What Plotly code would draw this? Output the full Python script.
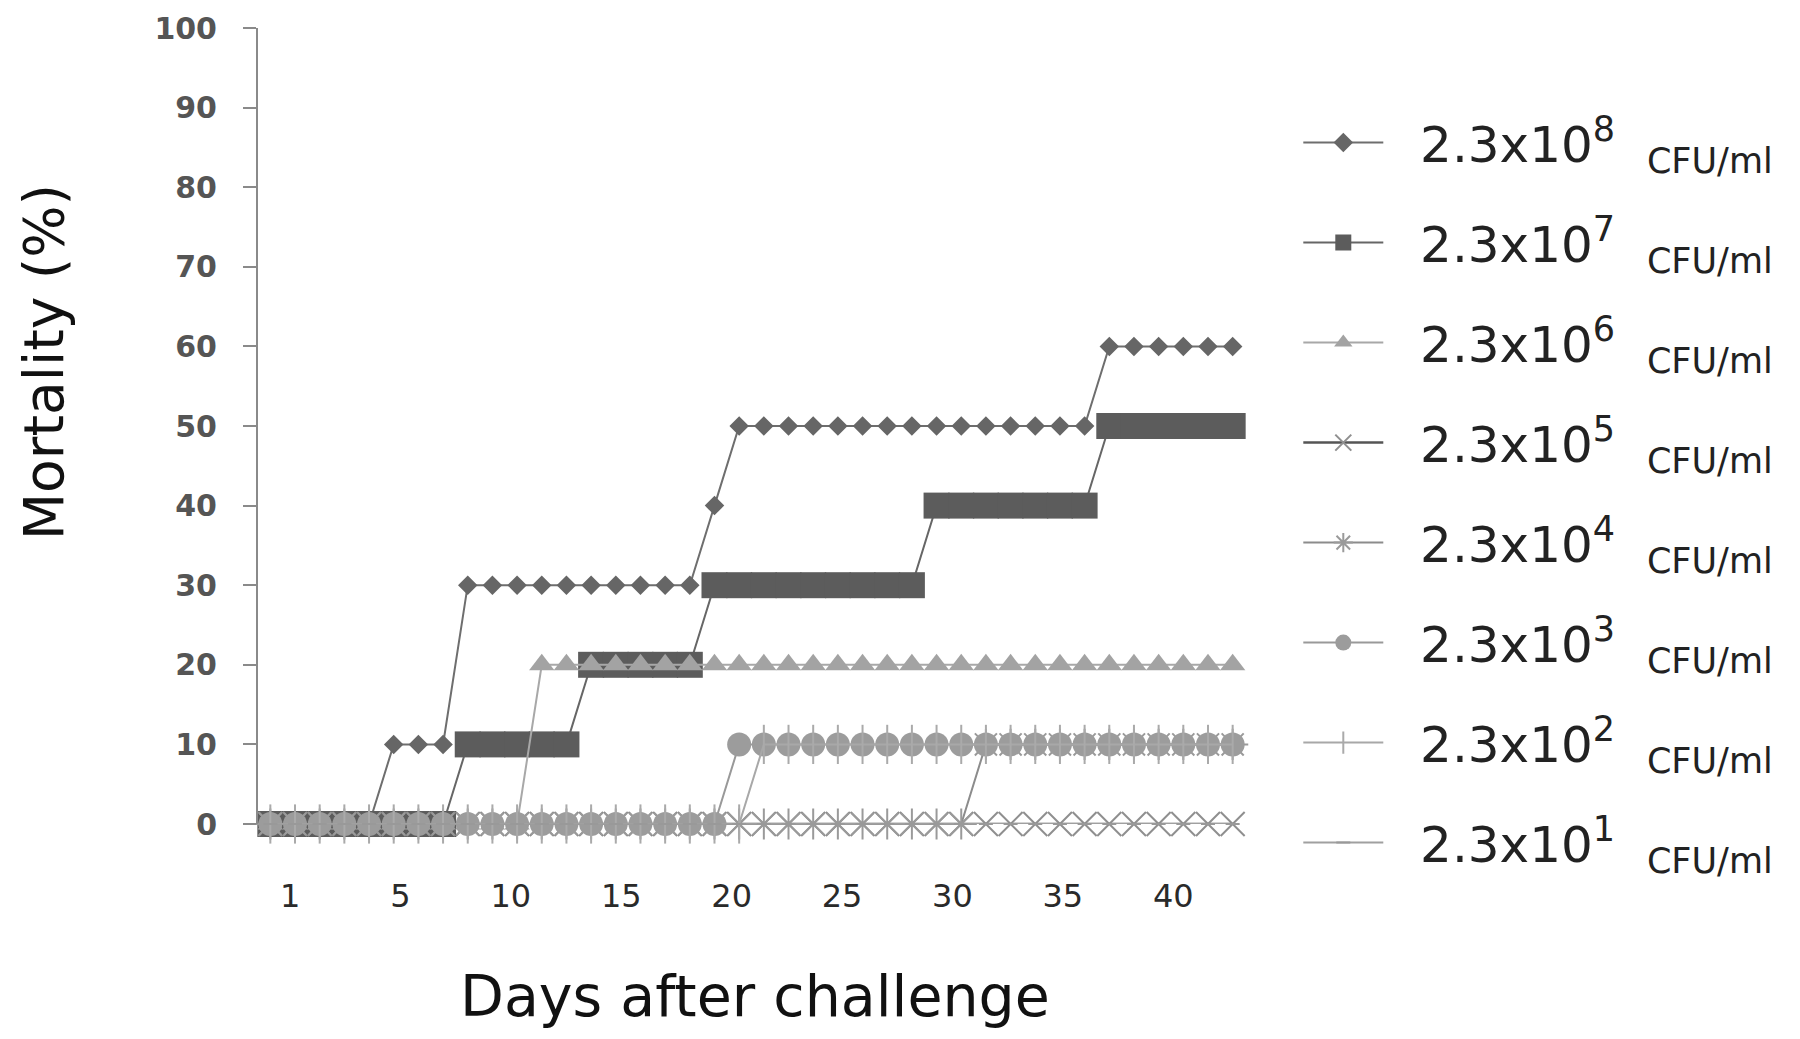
import plotly.graph_objects as go

# ---- data ----
days = list(range(1, 41))

mort_8 = [0, 0, 0, 0, 0, 10, 10, 10, 30, 30, 30, 30, 30, 30, 30, 30, 30, 30, 40,
          50, 50, 50, 50, 50, 50, 50, 50, 50, 50, 50, 50, 50, 50, 50,
          60, 60, 60, 60, 60, 60]
mort_7 = [0, 0, 0, 0, 0, 0, 0, 0, 10, 10, 10, 10, 10, 20, 20, 20, 20, 20,
          30, 30, 30, 30, 30, 30, 30, 30, 30, 40, 40, 40, 40, 40, 40, 40,
          50, 50, 50, 50, 50, 50]
mort_6 = [0, 0, 0, 0, 0, 0, 0, 0, 0, 0, 0, 20, 20, 20, 20, 20, 20, 20, 20, 20,
          20, 20, 20, 20, 20, 20, 20, 20, 20, 20, 20, 20, 20, 20, 20, 20, 20, 20, 20, 20]
mort_5 = [0, 0, 0, 0, 0, 0, 0, 0, 0, 0, 0, 0, 0, 0, 0, 0, 0, 0, 0, 0,
          0, 0, 0, 0, 0, 0, 0, 0, 0, 0, 0, 0, 0, 0, 0, 0, 0, 0, 0, 0]
mort_4 = [0, 0, 0, 0, 0, 0, 0, 0, 0, 0, 0, 0, 0, 0, 0, 0, 0, 0, 0, 0,
          0, 0, 0, 0, 0, 0, 0, 0, 0, 10, 10, 10, 10, 10, 10, 10, 10, 10, 10, 10]
mort_3 = [0, 0, 0, 0, 0, 0, 0, 0, 0, 0, 0, 0, 0, 0, 0, 0, 0, 0, 0, 10,
          10, 10, 10, 10, 10, 10, 10, 10, 10, 10, 10, 10, 10, 10, 10, 10, 10, 10, 10, 10]
mort_2 = [0, 0, 0, 0, 0, 0, 0, 0, 0, 0, 0, 0, 0, 0, 0, 0, 0, 0, 0, 0,
          10, 10, 10, 10, 10, 10, 10, 10, 10, 10, 10, 10, 10, 10, 10, 10, 10, 10, 10, 10]
mort_1 = [0, 0, 0, 0, 0, 0, 0, 0, 0, 0, 0, 0, 0, 0, 0, 0, 0, 0, 0, 0,
          0, 0, 0, 0, 0, 0, 0, 0, 0, 0, 0, 0, 0, 0, 0, 0, 0, 0, 0, 0]

exponents = ["8", "7", "6", "5", "4", "3", "2", "1"]
series = [mort_8, mort_7, mort_6, mort_5, mort_4, mort_3, mort_2, mort_1]

x_tick_labels = ["1", "5", "10", "15", "20", "25", "30", "35", "40"]
y_tick_vals = [0, 10, 20, 30, 40, 50, 60, 70, 80, 90, 100]

# ---- styles ----
styles = [
    dict(symbol="diamond", size=15, mcolor="#666666", lcolor="#6e6e6e", lw=2, mlw=0),
    dict(symbol="square", size=26, mcolor="#5c5c5c", lcolor="#666666", lw=2, mlw=0),
    dict(symbol="triangle-up", size=22, mcolor="#a3a3a3", lcolor="#a8a8a8", lw=2, mlw=0),
    dict(symbol="x-thin", size=24, mcolor="#8f8f8f", lcolor="#555555", lw=2.5, mlw=2),
    dict(symbol="asterisk", size=26, mcolor="#9a9a9a", lcolor="#8c8c8c", lw=2, mlw=2),
    dict(symbol="circle", size=24, mcolor="#9c9c9c", lcolor="#999999", lw=2, mlw=0),
    dict(symbol="line-ns", size=28, mcolor="#aaaaaa", lcolor="#a8a8a8", lw=2, mlw=2),
    dict(symbol="line-ew", size=10, mcolor="#999999", lcolor="#a0a0a0", lw=2, mlw=2),
]

NB = "\u00a0"
fig = go.Figure()
for i, (exp, vals) in enumerate(zip(exponents, series)):
    st = styles[i]
    fig.add_trace(go.Scatter(
        x=days, y=vals, mode="lines+markers",
        name=f"{NB}{NB}2.3x10<sup>{exp}</sup>{NB}{NB}<sub>CFU/ml</sub>",
        legendgroup=f"g{i}",
        cliponaxis=False,
        line=dict(color=st["lcolor"], width=st["lw"]),
        marker=dict(symbol=st["symbol"], size=st["size"], color=st["mcolor"],
                    line=dict(color=st["mcolor"], width=st["mlw"])),
    ))

n_lab = len(x_tick_labels)
tick_pos = [1.80 + 4.474 * i for i in range(n_lab)]

# the page body adds an 8px offset, so the figure is 8px smaller than the window
fig.update_layout(
    width=1792, height=1031,
    margin=dict(l=250, r=555, t=20, b=215),
    paper_bgcolor="white", plot_bgcolor="white",
    font=dict(family="DejaVu Sans", color="#222222"),
    xaxis=dict(range=[0.5, 40.5], tickvals=tick_pos, ticktext=x_tick_labels,
               showgrid=False, zeroline=False, showline=False, ticks="",
               automargin=False, ticklabeloverflow="allow",
               tickfont=dict(size=32, color="#2a2a2a"), ticklabelstandoff=50),
    yaxis=dict(range=[0, 100], tickvals=y_tick_vals, showgrid=False, zeroline=False,
               showline=True, linecolor="#8a8a8a", linewidth=2, automargin=False,
               ticks="outside", ticklen=13, tickwidth=2, tickcolor="#8a8a8a",
               ticklabeloverflow="allow",
               tickfont=dict(size=30, color="#555555", weight="bold"),
               ticklabelstandoff=20),
    legend=dict(x=1.054, xanchor="left", y=0.905, yanchor="top",
                font=dict(family="DejaVu Sans", size=50, color="#222222"),
                itemwidth=80, tracegroupgap=32, bgcolor="rgba(0,0,0,0)",
                itemsizing="trace"),
    annotations=[
        dict(text="Mortality (%)", textangle=-90, xref="paper", yref="paper",
             x=-0.2168, y=0.58, xanchor="center", yanchor="middle", showarrow=False,
             font=dict(size=55, color="#111111")),
        dict(text="Days after challenge", xref="paper", yref="paper",
             x=0.5035, y=-0.216, xanchor="center", yanchor="middle", showarrow=False,
             font=dict(size=57, color="#111111")),
    ],
)

fig.write_html("out.html")
